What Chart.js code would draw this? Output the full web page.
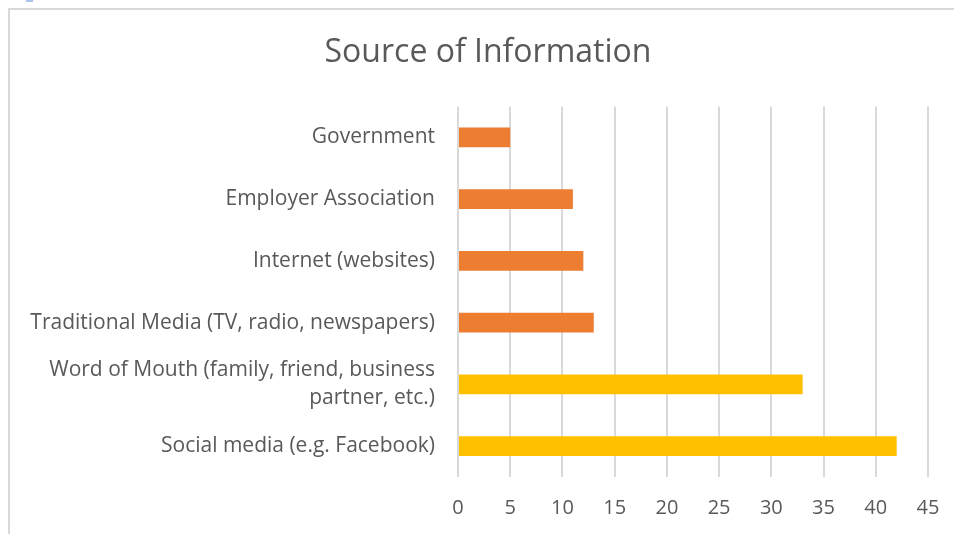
<!DOCTYPE html>
<html>
<head>
<meta charset="utf-8">
<script src="https://cdn.jsdelivr.net/npm/chart.js@4"></script>
<style>
  html, body { margin: 0; padding: 0; background: #fff; overflow: hidden; }
  #wrap { position: relative; width: 954px; height: 534px; overflow: hidden; }
  #frame { position: absolute; left: 8px; top: 8px; width: 980px; height: 540px; border-left: 2px solid #d9d9d9; border-top: 2px solid #d9d9d9; }
  #mark { position: absolute; left: 26px; top: 0; width: 7px; height: 2px; background: #a9c4ec; }
  canvas { position: absolute; left: 0; top: 0; }
</style>
</head>
<body>
<div id="wrap">
  <div id="frame"></div>
  <div id="mark"></div>
  <canvas id="chart" width="976" height="534"></canvas>
</div>
<script>
// Kategorien (von oben nach unten) und Werte
const sources = [
  'Government',
  'Employer Association',
  'Internet (websites)',
  'Traditional Media (TV, radio, newspapers)',
  ['Word of Mouth (family, friend, business', 'partner, etc.)'],
  'Social media (e.g. Facebook)'
];
const counts = [5, 11, 12, 13, 33, 42];
const barColors = ['#ED7D31', '#ED7D31', '#ED7D31', '#ED7D31', '#FFC000', '#FFC000'];
const xTicks = [0, 5, 10, 15, 20, 25, 30, 35, 40, 45];

const textColor = '#595959';
const fontFamily = "'Open Sans', sans-serif";

new Chart(document.getElementById('chart'), {
  type: 'bar',
  data: {
    labels: sources,
    datasets: [{
      data: counts,
      backgroundColor: barColors,
      categoryPercentage: 1,
      barPercentage: 0.32
    }]
  },
  options: {
    indexAxis: 'y',
    responsive: false,
    animation: false,
    layout: { padding: 0 },
    plugins: {
      legend: { display: false },
      tooltip: { enabled: false },
      title: {
        display: true,
        text: 'Source of Information',
        color: textColor,
        font: { family: fontFamily, size: 32, weight: 'normal' },
        padding: { top: 34, bottom: 34 }
      }
    },
    scales: {
      x: {
        min: 0,
        max: 45,
        afterBuildTicks: axis => { axis.ticks = xTicks.map(v => ({ value: v })); },
        grid: { color: '#d9d9d9', lineWidth: 2, drawTicks: false },
        border: { display: false },
        ticks: { color: textColor, padding: 19, font: { family: fontFamily, size: 20 } },
        afterFit: axis => {
          axis.height = 57;
          // rechter Rand nur für die Achse, der Titel bleibt über die ganze Breite zentriert
          axis.paddingLeft = 0;
          axis.paddingRight = 48;
        }
      },
      y: {
        grid: { display: false, drawTicks: false },
        border: { display: false },
        ticks: { color: textColor, padding: 23, font: { family: fontFamily, size: 21, lineHeight: 1.33 } },
        afterFit: axis => { axis.width = 458; }
      }
    }
  }
});
</script>
</body>
</html>
